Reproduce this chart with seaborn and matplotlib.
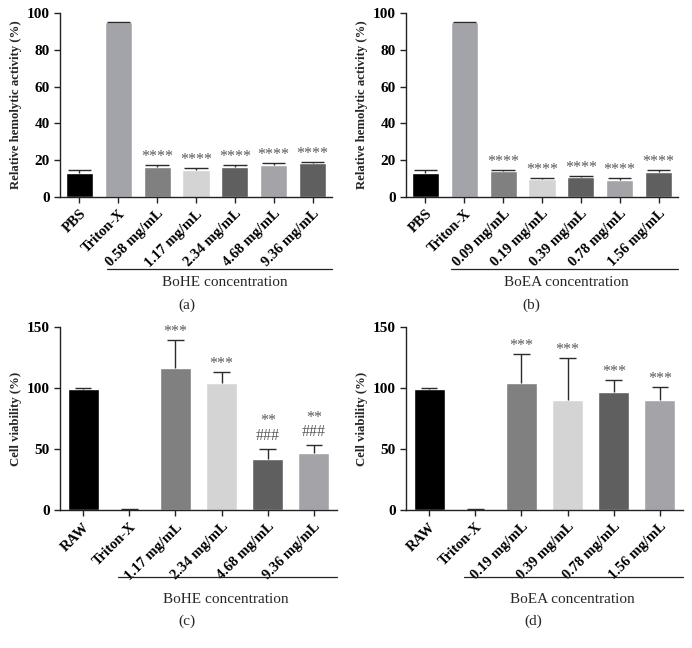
import numpy as np
import matplotlib
matplotlib.use("Agg")
import matplotlib.pyplot as plt
import seaborn as sns

# Datos
labels_a = ["PBS", "Triton-X", "0.58 mg/mL", "1.17 mg/mL", "2.34 mg/mL", "4.68 mg/mL", "9.36 mg/mL"]
hemo_a = [13.0, 95.0, 16.3, 14.8, 16.5, 17.5, 18.5]
hemo_a_err = [1.5, 0.2, 0.9, 0.7, 0.7, 0.8, 0.3]
stars_a = ["", "", "****", "****", "****", "****", "****"]

labels_b = ["PBS", "Triton-X", "0.09 mg/mL", "0.19 mg/mL", "0.39 mg/mL", "0.78 mg/mL", "1.56 mg/mL"]
hemo_b = [13.0, 95.0, 14.0, 9.8, 10.7, 9.3, 13.7]
hemo_b_err = [1.5, 0.2, 0.6, 0.7, 0.6, 0.9, 0.8]
stars_b = ["", "", "****", "****", "****", "****", "****"]

labels_c = ["RAW", "Triton-X", "1.17 mg/mL", "2.34 mg/mL", "4.68 mg/mL", "9.36 mg/mL"]
viab_c = [99.0, 0.5, 116.7, 104.2, 41.5, 46.4]
viab_c_err = [1.0, 0.2, 23.0, 9.0, 8.4, 6.5]
stars_c = ["", "", "***", "***", "**\n###", "**\n###"]

labels_d = ["RAW", "Triton-X", "0.19 mg/mL", "0.39 mg/mL", "0.78 mg/mL", "1.56 mg/mL"]
viab_d = [99.0, 0.5, 103.9, 90.0, 96.8, 90.0]
viab_d_err = [1.0, 0.2, 24.3, 34.6, 9.6, 11.0]
stars_d = ["", "", "***", "***", "***", "***"]

colors7 = ["#000000", "#a3a3aa", "#808080", "#d4d4d4", "#5f5f5f", "#a3a3a8", "#5f5f5f"]
colors6 = ["#000000", "#a3a3aa", "#808080", "#d4d4d4", "#5f5f5f", "#a3a3a8"]

sns.set_style("ticks")
plt.rcParams['font.family'] = ['Liberation Serif', 'DejaVu Serif']

fig = plt.figure(figsize=(6.92, 6.48), dpi=100)
W, H = 692, 648


def make_ax(left, top, right, bottom):
    return fig.add_axes([left / W, 1 - bottom / H, (right - left) / W, (bottom - top) / H])


def panel(ax, labels, vals, errs, stars, colors, ymax, ystep, ylabel, group, tag,
          line_x0, line_y, lab_x, lab_y, tag_x, tag_y, width, cap):
    sns.barplot(x=labels, y=vals, hue=labels, palette=colors, legend=False,
                width=width, saturation=1, ax=ax, errorbar=None)
    x = np.arange(len(labels))
    tops = np.array(vals) + np.array(errs)
    # barras de error solo hacia arriba
    ax.vlines(x, vals, tops, color="#2b2b2b", lw=1.0, zorder=3)
    ax.hlines(tops, x - cap, x + cap, color="#2b2b2b", lw=1.0, zorder=3)
    for xi, t, s in zip(x, tops, stars):
        if s:
            off = 4 if "\n" in s else 0
            ax.annotate(s, (xi, t), xytext=(0, off), textcoords="offset points",
                        ha="center", va="bottom", fontsize=11.5, color="#5a5a5a",
                        linespacing=0.85)
    ax.set_xlim(-0.5, len(labels) - 0.5)
    ax.set_ylim(0, ymax)
    ax.set_yticks(np.arange(0, ymax + 1, ystep))
    ax.set_ylabel(ylabel, fontsize=9.2, fontweight="bold", labelpad=3)
    ax.set_xlabel("")
    ax.tick_params(axis="both", direction="out", length=4, width=1, colors="#222222",
                   labelcolor="black", labelsize=11)
    for lab in ax.get_yticklabels():
        lab.set_fontweight("bold")
    ax.set_xticks(x)
    ax.set_xticklabels(labels, rotation=45, ha="right", rotation_mode="anchor",
                       fontweight="bold", fontsize=10.5)
    sns.despine(ax=ax)
    for sp in ["left", "bottom"]:
        ax.spines[sp].set_linewidth(1.0)
        ax.spines[sp].set_color("#222222")
    ax.plot([line_x0, 1.0], [line_y, line_y], transform=ax.transAxes, color="#222222",
            lw=0.9, clip_on=False)
    ax.text(lab_x, lab_y, group, transform=ax.transAxes, ha="center", va="center", fontsize=11)
    ax.text(tag_x, tag_y, tag, transform=ax.transAxes, ha="center", va="center", fontsize=11)


ax_a = make_ax(60, 13, 332, 197)
panel(ax_a, labels_a, hemo_a, hemo_a_err, stars_a, colors7, 100, 20,
      "Relative hemolytic activity (%)", "BoHE concentration", "(a)",
      0.173, -0.39, 0.607, -0.467, 0.467, -0.587, 0.7, 0.3)

ax_b = make_ax(406, 13, 678, 197)
panel(ax_b, labels_b, hemo_b, hemo_b_err, stars_b, colors7, 100, 20,
      "Relative hemolytic activity (%)", "BoEA concentration", "(b)",
      0.165, -0.39, 0.59, -0.467, 0.46, -0.587, 0.7, 0.3)

ax_c = make_ax(60, 327, 337, 510)
panel(ax_c, labels_c, viab_c, viab_c_err, stars_c, colors6, 150, 50,
      "Cell viability (%)", "BoHE concentration", "(c)",
      0.21, -0.366, 0.60, -0.49, 0.46, -0.61, 0.67, 0.18)

ax_d = make_ax(406, 327, 683, 510)
panel(ax_d, labels_d, viab_d, viab_d_err, stars_d, colors6, 150, 50,
      "Cell viability (%)", "BoEA concentration", "(d)",
      0.21, -0.366, 0.60, -0.49, 0.46, -0.61, 0.67, 0.18)

fig.savefig("out.png", dpi=100)
